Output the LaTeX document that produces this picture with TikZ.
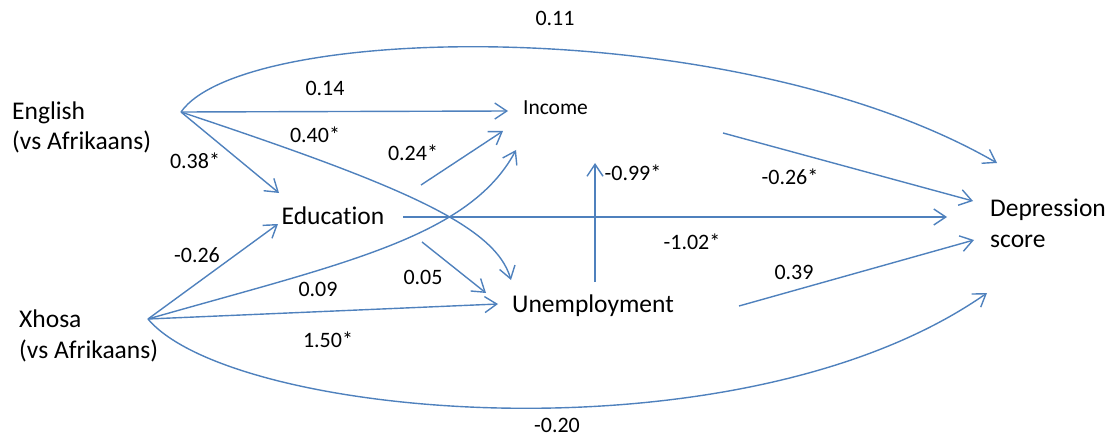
\documentclass[tikz,border=0pt]{standalone}
\usepackage{fontspec}
\setmainfont{Carlito}[Ligatures=CommonOff]
\usetikzlibrary{arrows.meta}
\definecolor{pathblue}{RGB}{79,129,189}
\tikzset{
    var/.style = {
        font = \fontsize{25.5}{31}\selectfont,
        inner sep = 0pt,
        },
    income/.style = {
        font = \fontsize{21.5}{26}\selectfont,
        inner sep = 0pt,
        },
    coef/.style = {
        font = \fontsize{22}{26}\selectfont,
        inner sep = 0pt,
        },
    path edge/.style = {
        draw = pathblue,
        line width = 1.4pt,
        -{Straight Barb[length=12pt,width=16pt]},
        },
}

\begin{document}
\begin{tikzpicture}[x=1pt,y=1pt]
    \useasboundingbox (0,0) rectangle (1115,437);

    % variables (base = last line)
    \node[var, align=left, anchor=base west] (eng) at (12,287) {English\\(vs Afrikaans)};
    \node[var, align=left, anchor=base west] (xho) at (19,79) {Xhosa\\(vs Afrikaans)};
    \node[income, anchor=base] (inc) at (555.5,322) {Income};
    \node[var, anchor=base] (edu) at (333,213) {Education};
    \node[var, anchor=base] (une) at (593,125) {Unemployment};
    \node[var, align=left, anchor=base west] (dep) at (990,190) {Depression\\score};

    % ports
    \coordinate (engP) at (181,325);
    \coordinate (xhoP) at (148,118);
    \coordinate (eduL1) at (279,244);
    \coordinate (eduL2) at (278,213);
    \coordinate (eduR1) at (421,252);
    \coordinate (eduR2) at (403,220);
    \coordinate (eduR3) at (422,195);
    \coordinate (incL1) at (508,326);
    \coordinate (incL2) at (503,306);
    \coordinate (incL3) at (516,287);
    \coordinate (incB) at (595,274);
    \coordinate (incR) at (723,304);
    \coordinate (uneL1) at (498,133);
    \coordinate (uneL2) at (486,144);
    \coordinate (uneT1) at (511,157);
    \coordinate (uneT2) at (595,155);
    \coordinate (uneR) at (739,131);
    \coordinate (depL1) at (997,274);
    \coordinate (depL2) at (973,236);
    \coordinate (depL3) at (947,220);
    \coordinate (depL4) at (974,197);
    \coordinate (depL5) at (987,144);

    % English paths
    \path (engP) edge[path edge] (incL1);
    \path (engP) edge[path edge] (eduL1);
    \draw[path edge] (engP) .. controls +(219,-73) and +(-16,55) .. (uneT1);
    \draw[path edge] (engP) .. controls +(63,90) and +(-260,150) .. (depL1);

    % Xhosa paths
    \path (xhoP) edge[path edge] (eduL2);
    \path (xhoP) edge[path edge] (uneL1);
    \draw[path edge] (xhoP) .. controls +(192,55) and +(-47,-88) .. (incL3);
    \draw[path edge] (xhoP) .. controls +(84,-100) and +(-246,-172) .. (depL5);

    % mediators
    \path (eduR1) edge[path edge] (incL2);
    \path (eduR2) edge[path edge] (depL3);
    \path (eduR3) edge[path edge] (uneL2);
    \path (uneT2) edge[path edge] (incB);
    \path (incR) edge[path edge] (depL2);
    \path (uneR) edge[path edge] (depL4);

    % coefficients
    \node[coef] (c011) at (555,419) {0.11};
    \node[coef] (c014) at (325,349) {0.14};
    \node[coef] (c040) at (315,302) {0.40*};
    \node[coef] (c024) at (413,284) {0.24*};
    \node[coef] (c038) at (195,276) {0.38*};
    \node[coef] (c099) at (633,264) {-0.99*};
    \node[coef] (c026s) at (790,260) {-0.26*};
    \node[coef] (c102) at (692,195) {-1.02*};
    \node[coef] (c026) at (197,182) {-0.26};
    \node[coef] (c005) at (423,160) {0.05};
    \node[coef] (c009) at (318,148) {0.09};
    \node[coef] (c039) at (794,165) {0.39};
    \node[coef] (c150) at (328,97) {1.50*};
    \node[coef] (c020) at (557,12) {-0.20};
\end{tikzpicture}
\end{document}
